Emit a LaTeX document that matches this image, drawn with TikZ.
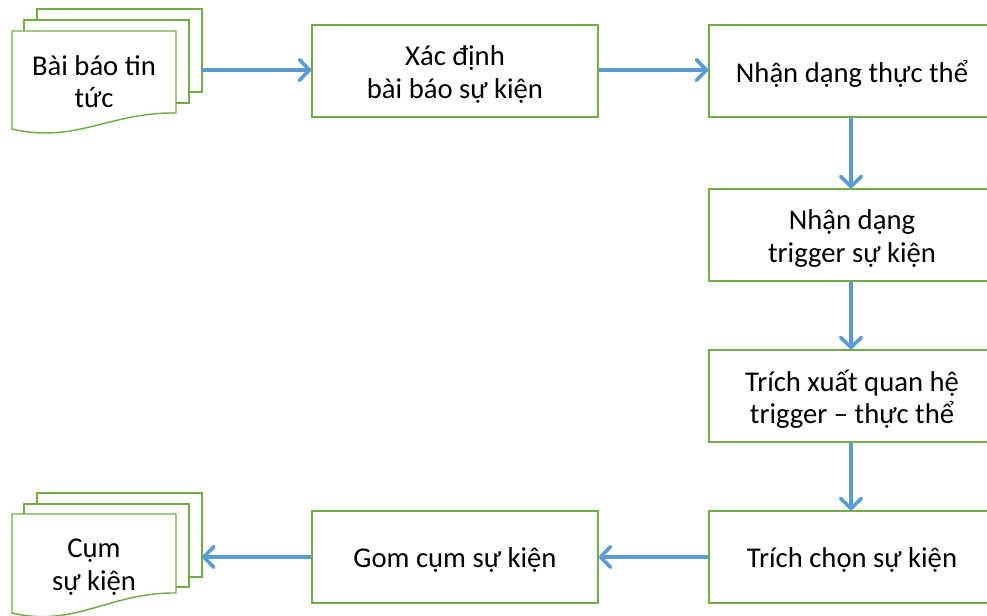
\documentclass[tikz,border=0pt]{standalone}
\usepackage{fontspec}
\setmainfont{Carlito}
\usetikzlibrary{arrows.meta}
\definecolor{bgreen}{RGB}{112,173,71}
\definecolor{ablue}{RGB}{91,155,213}
\begin{document}
\begin{tikzpicture}[x=0.75pt,y=-0.75pt,
  stepbox/.style={draw=bgreen,line width=1.1pt,fill=white,minimum width=214.5pt,minimum height=69pt,inner sep=0pt},
  steptext/.style={align=center,font=\fontsize{21.5}{24.5}\selectfont,inner sep=0pt,yshift=-2.4pt},
  sheet/.style={draw=bgreen,line width=1.1pt,fill=white},
  doctext/.style={align=center,font=\fontsize{21.5}{24.5}\selectfont,inner sep=0pt},
  flow/.style={draw=ablue,line width=2.7pt,-{Straight Barb[length=7.5pt,width=15.5pt,line cap=round,line join=round]}}]
\useasboundingbox (0,0) rectangle (987,616);
% top document stack
\draw[sheet] (37,9) rectangle (202,92);
\draw[sheet] (24,20) rectangle (189,103);
\draw[sheet] (12,31) -- (176,31) -- (176,113) .. controls (110,112) and (75,144) .. (12,129) -- cycle;
\node[doctext] (d1) at (94,81.5) {Bài báo tin\\tức};
\coordinate (d1e) at (202,70);
% bottom document stack
\draw[sheet] (37,493) rectangle (202,577);
\draw[sheet] (24,504) rectangle (189,587);
\draw[sheet] (12,514) -- (176,514) -- (176,593) .. controls (110,592) and (75,628) .. (12,613) -- cycle;
\node[doctext] (d2) at (94,567) {Cụm\\sự kiện};
\coordinate (d2e) at (202,557);
% boxes
\node[stepbox,label={[steptext]center:Xác định\\bài báo sự kiện}] (b1) at (455,71) {};
\node[stepbox,label={[steptext]center:Nhận dạng thực thể}] (b2) at (852,71) {};
\node[stepbox,label={[steptext]center:Nhận dạng\\trigger sự kiện}] (b3) at (852,235) {};
\node[stepbox,label={[steptext]center:Trích xuất quan hệ\\trigger – thực thể}] (b4) at (852,396) {};
\node[stepbox,label={[steptext]center:Trích chọn sự kiện}] (b5) at (852,557) {};
\node[stepbox,label={[steptext]center:Gom cụm sự kiện}] (b6) at (455,557) {};
% connectors
\draw[flow] (d1e) -- (b1.west |- d1e);
\draw[flow] (b1.east |- d1e) -- (b2.west |- d1e);
\draw[flow] (b2.south -| 851,0) -- (b3.north -| 851,0);
\draw[flow] (b3.south -| 851,0) -- (b4.north -| 851,0);
\draw[flow] (b4.south -| 851,0) -- (b5.north -| 851,0);
\draw[flow] (b5.west) -- (b6.east);
\draw[flow] (b6.west) -- (d2e);
\end{tikzpicture}
\end{document}
